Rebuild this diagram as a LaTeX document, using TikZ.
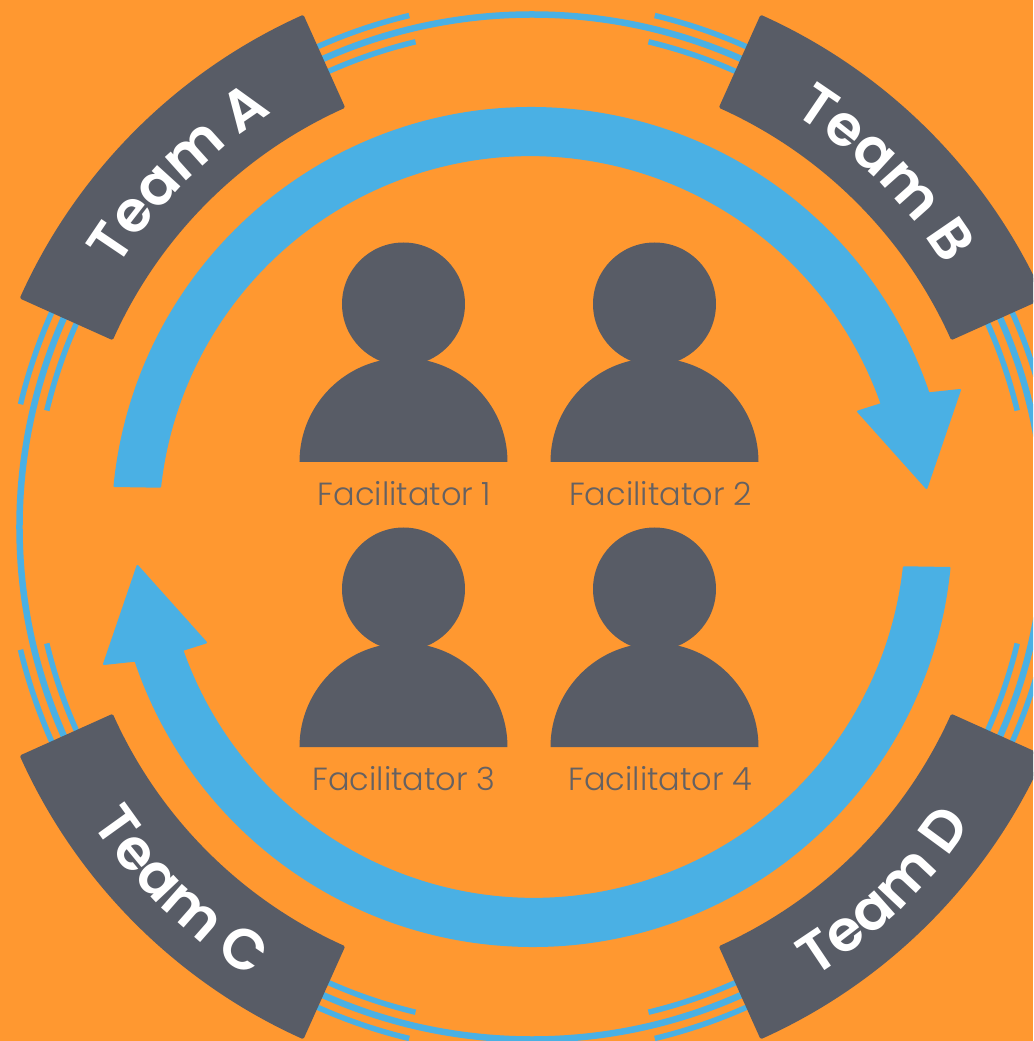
\documentclass[tikz,border=0pt]{standalone}
\usepackage{fontspec}
\usetikzlibrary{decorations.text}
\newfontfamily\teamfont{Poppins SemiBold}
\newfontfamily\facfont{Poppins Light}
\definecolor{bgorange}{HTML}{FF9830}
\definecolor{flowblue}{HTML}{4AB0E4}
\definecolor{slatedark}{HTML}{585C66}
\tikzset{
  flowshape/.style={fill=flowblue,draw=flowblue,line width=2pt,line join=round},
  teamband/.style={fill=slatedark,draw=slatedark,line width=3pt,line join=round},
  thinring/.style={draw=flowblue,line width=6.5pt},
  sideline/.style={draw=flowblue,line width=5.5pt},
  person/.style={fill=slatedark},
  faclabel/.style={anchor=base,text=slatedark!92!bgorange,font=\facfont\fontsize{32}{38}\selectfont,inner sep=0pt},
  teamtext/.style={decorate,decoration={text along path,text align=center,text={|\teamfont\fontsize{57}{62}\selectfont\color{white}|#1}}}
}
\begin{document}
\begin{tikzpicture}[x=1pt,y=1pt]
\useasboundingbox (-532,-514) rectangle (501,527);
\clip (-532,-514) rectangle (501,527);
\fill[bgorange] (-532,-514) rectangle (501,527);
\coordinate (hub) at (0,0);
% thin ring
\draw[thinring] (hub) circle[radius=512.5pt];
\foreach \a in {0,90,180,270}{
  \foreach \r in {499,526}{
    \draw[sideline] (\a+13.5:\r pt) arc[start angle=\a+13.5,end angle=\a+27,radius=\r pt];
    \draw[sideline] (\a-13.5:\r pt) arc[start angle=\a-13.5,end angle=\a-27,radius=\r pt];
  }
}
% team bands
\foreach \a in {0,90,180,270}{
  \draw[teamband] (\a+24.2:460.5pt) arc[start angle=\a+24.2,end angle=\a+65.8,radius=460.5pt]
     -- (\a+65.8:559.5pt) arc[start angle=\a+65.8,end angle=\a+24.2,radius=559.5pt] -- cycle;
}
\path[teamtext={Team A}] (165:489pt) arc[start angle=165,end angle=105,radius=489pt];
\path[teamtext={Team B}] (75:489pt) arc[start angle=75,end angle=15,radius=489pt];
\path[teamtext={Team C}] (196:531pt) arc[start angle=196,end angle=256,radius=531pt];
\path[teamtext={Team D}] (284:531pt) arc[start angle=284,end angle=344,radius=531pt];
% flow arrows
\foreach \rot in {0,180}{
  \begin{scope}[rotate=\rot]
    \draw[flowshape] (-417.5,41) arc[start angle={180-asin(41/419)},end angle=18.6,radius=419pt]
      -- (428,137) -- (394.5,39) -- (326,115.5) -- (349.7,123)
      arc[start angle=19.4,end angle={180-asin(41/372.5)},radius=372.5pt] -- cycle;
  \end{scope}
}
% facilitators
\foreach \n/\x/\y in {1/-128.5/223,2/122.5/223,3/-128.5/-62,4/122.5/-62}{
  \fill[person] (\x,\y) circle[radius=61.5pt];
  \fill[person] (\x-104,\y-158) arc[start angle=180,end angle=0,radius=104pt] -- cycle;
}
\node[faclabel] (f1) at (-127.5,21) {Facilitator 1};
\node[faclabel] (f2) at (128.5,21) {Facilitator 2};
\node[faclabel] (f3) at (-128,-263) {Facilitator 3};
\node[faclabel] (f4) at (128.5,-263) {Facilitator 4};
\end{tikzpicture}
\end{document}
